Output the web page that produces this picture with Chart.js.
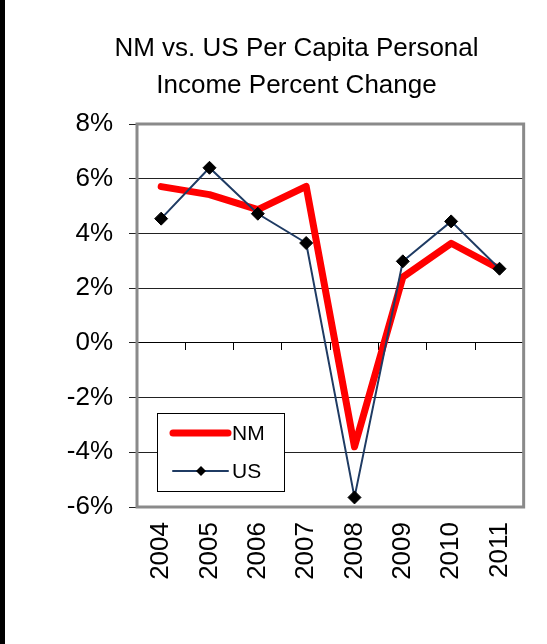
<!DOCTYPE html>
<html>
<head>
<meta charset="utf-8">
<script src="https://cdn.jsdelivr.net/npm/chart.js"></script>
<style>
  body { margin: 0; background: #fff; }
  #wrap { position: relative; width: 547px; height: 644px; }
  #strip { position: absolute; left: 0; top: 0; width: 5px; height: 644px; background: #000; }
</style>
</head>
<body>
<div id="wrap">
  <canvas id="chart"></canvas>
  <div id="strip"></div>
</div>
<script>
const years = ["2004", "2005", "2006", "2007", "2008", "2009", "2010", "2011"]
const nmValues = [5.71, 5.42, 4.87, 5.72, -3.8, 2.4, 3.64, 2.7]
const usValues = [4.54, 6.4, 4.72, 3.65, -5.65, 2.98, 4.44, 2.71]
const yTicks = [-6, -4, -2, 0, 2, 4, 6, 8]

const FONT = "'Liberation Sans', Arial, sans-serif"

// plot frame, drawn over the grid
const frame = {
  id: "frame",
  beforeDatasetsDraw(chart) {
    const { ctx, chartArea: a } = chart
    ctx.save()
    ctx.strokeStyle = "#8a8a8a"
    ctx.lineWidth = 3
    ctx.strokeRect(a.left, a.top, a.right - a.left, a.bottom - a.top)
    ctx.restore()
  }
}

// legend box sitting inside the plot, lower left
const boxLegend = {
  id: "boxLegend",
  afterDraw(chart) {
    const { ctx, chartArea: a } = chart
    const x = a.left + 20, y = a.top + 289, w = 127, h = 78
    ctx.save()
    ctx.fillStyle = "#fff"
    ctx.fillRect(x, y, w, h)
    ctx.strokeStyle = "#000"
    ctx.lineWidth = 1
    ctx.strokeRect(x + 0.5, y + 0.5, w, h)

    const rows = [chart.data.datasets[0], chart.data.datasets[1]]
    rows.forEach((ds, i) => {
      const cy = y + 20 + i * 38
      ctx.strokeStyle = ds.borderColor
      ctx.lineWidth = ds.borderWidth
      ctx.lineCap = "round"
      ctx.beginPath()
      ctx.moveTo(x + 16, cy)
      ctx.lineTo(x + 71, cy)
      ctx.stroke()
      if (ds.pointRadius > 0) {
        const r = 5, cx = x + 44
        ctx.fillStyle = ds.pointBackgroundColor
        ctx.beginPath()
        ctx.moveTo(cx - r, cy)
        ctx.lineTo(cx, cy - r)
        ctx.lineTo(cx + r, cy)
        ctx.lineTo(cx, cy + r)
        ctx.closePath()
        ctx.fill()
      }
      ctx.fillStyle = "#000"
      ctx.font = "21px " + FONT
      ctx.textBaseline = "middle"
      ctx.textAlign = "left"
      ctx.fillText(ds.label, x + 75, cy + 1)
    })
    ctx.restore()
  }
}

new Chart(document.getElementById("chart"), {
  type: "line",
  data: {
    labels: years,
    datasets: [
      {
        label: "NM",
        data: nmValues,
        borderColor: "#ff0000",
        backgroundColor: "#ff0000",
        borderWidth: 7,
        borderJoinStyle: "round",
        borderCapStyle: "round",
        pointRadius: 0,
        tension: 0,
        order: 1
      },
      {
        label: "US",
        data: usValues,
        borderColor: "#1f3b63",
        backgroundColor: "#000",
        borderWidth: 2,
        pointStyle: "rectRot",
        pointRadius: 6.5,
        pointBackgroundColor: "#000",
        pointBorderColor: "#000",
        pointBorderWidth: 1,
        tension: 0,
        order: 0
      }
    ]
  },
  options: {
    responsive: true,
    maintainAspectRatio: false,
    animation: false,
    events: [],
    layout: {
      padding: { left: 67, right: 21, top: 0, bottom: 0 }
    },
    scales: {
      x: {
        type: "category",
        position: "bottom",
        offset: true,
        grid: { display: false, drawTicks: false },
        border: { display: false },
        ticks: {
          color: "#000",
          font: { family: FONT, size: 26 },
          minRotation: 90,
          maxRotation: 90,
          autoSkip: false,
          padding: 15
        },
        afterFit: (s) => { s.height = 137 }
      },
      x2: {
        type: "category",
        axis: "x",
        labels: years,
        position: { y: 0 },
        offset: true,
        grid: {
          offset: true,
          drawOnChartArea: false,
          drawTicks: true,
          tickLength: 7,
          color: "#000",
          lineWidth: 1
        },
        border: { display: true, color: "#000", width: 1 },
        ticks: { display: false }
      },
      y: {
        min: -6,
        max: 8,
        afterBuildTicks: (s) => { s.ticks = yTicks.map(v => ({ value: v })) },
        grid: {
          color: "#222",
          lineWidth: 1,
          tickLength: 8
        },
        border: { display: false },
        ticks: {
          color: "#000",
          font: { family: FONT, size: 26 },
          padding: 16,
          callback: (v) => v + "%"
        },
        afterFit: (s) => { s.width = 70 }
      }
    },
    plugins: {
      legend: { display: false },
      tooltip: { enabled: false },
      title: {
        display: true,
        text: ["NM vs. US Per Capita Personal", "Income Percent Change"],
        color: "#000",
        font: { family: FONT, size: 26, weight: "normal", lineHeight: "37px" },
        padding: { top: 30.5, bottom: 19.5 }
      }
    }
  },
  plugins: [frame, boxLegend]
})
</script>
</body>
</html>
